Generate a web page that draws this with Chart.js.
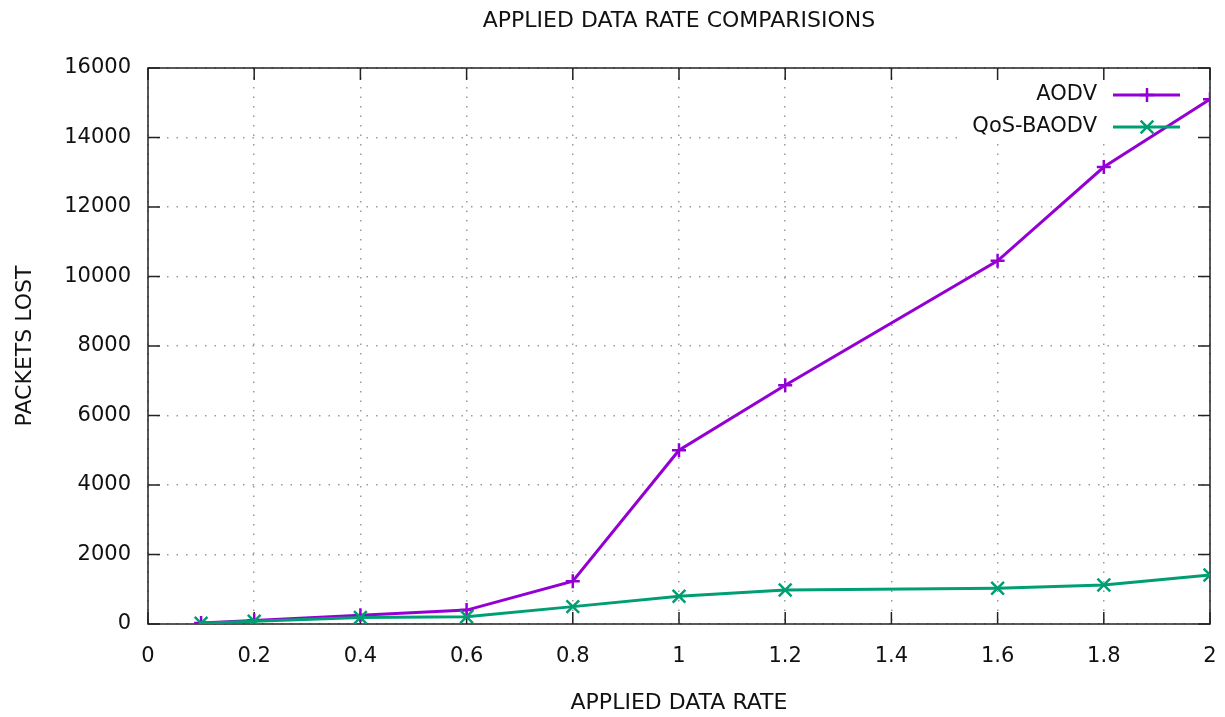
<!DOCTYPE html>
<html>
<head>
<meta charset="utf-8">
<script src="https://cdn.jsdelivr.net/npm/chart.js@4/dist/chart.umd.min.js"></script>
<style>
  body { margin: 0; background: #fff; }
</style>
</head>
<body>
<canvas id="chart" width="1225" height="717"></canvas>
<script>
const chartTitle = 'APPLIED DATA RATE COMPARISIONS';
const xTitle = 'APPLIED DATA RATE';
const yTitle = 'PACKETS LOST';

const rates = [0.1, 0.2, 0.4, 0.6, 0.8, 1.0, 1.2, 1.6, 1.8, 2.0];
const aodv = [30, 100, 250, 400, 1230, 5000, 6870, 10450, 13150, 15100];
const qosBaodv = [20, 80, 190, 210, 500, 800, 980, 1030, 1120, 1410];

const seriesNames = ['AODV', 'QoS-BAODV'];
const seriesColors = ['#9400d3', '#009e73'];
const seriesMarkers = ['cross', 'crossRot'];
const markerSizes = [7, 9];

const FONT = 'DejaVu Sans';

const points = vals => rates.map((x, i) => ({ x: x, y: vals[i] }));

// gnuplot style: framed plot, inward ticks on all sides, opaque key in the corner
const framePlugin = {
  id: 'frame',
  beforeDatasetsDraw(chart) {
    const { ctx, chartArea: a, scales } = chart;
    ctx.save();
    // key area hides the grid
    ctx.fillStyle = '#fff';
    ctx.fillRect(a.right - 252, a.top + 1, 251, 73);

    ctx.strokeStyle = '#222';
    ctx.lineWidth = 1.5;
    ctx.strokeRect(a.left, a.top, a.right - a.left, a.bottom - a.top);

    const len = 12;
    ctx.beginPath();
    scales.x.ticks.forEach(t => {
      const px = scales.x.getPixelForValue(t.value);
      ctx.moveTo(px, a.bottom); ctx.lineTo(px, a.bottom - len);
      ctx.moveTo(px, a.top); ctx.lineTo(px, a.top + len);
    });
    scales.y.ticks.forEach(t => {
      const py = scales.y.getPixelForValue(t.value);
      ctx.moveTo(a.left, py); ctx.lineTo(a.left + len, py);
      ctx.moveTo(a.right, py); ctx.lineTo(a.right - len, py);
    });
    ctx.stroke();

    // title
    ctx.fillStyle = '#111';
    ctx.font = '22px "' + FONT + '"';
    ctx.textAlign = 'center';
    ctx.textBaseline = 'middle';
    ctx.fillText(chartTitle, (a.left + a.right) / 2, 21);
    ctx.restore();
  },
  afterDatasetsDraw(chart) {
    const { ctx, chartArea: a } = chart;
    ctx.save();
    ctx.font = '21px "' + FONT + '"';
    ctx.textAlign = 'right';
    ctx.textBaseline = 'middle';
    seriesNames.forEach((name, i) => {
      const y = a.top + 27 + i * 32;
      ctx.fillStyle = '#111';
      ctx.fillText(name, a.right - 113, y);
      ctx.strokeStyle = seriesColors[i];
      ctx.lineWidth = 3;
      ctx.beginPath();
      ctx.moveTo(a.right - 97, y);
      ctx.lineTo(a.right - 30, y);
      ctx.stroke();
      ctx.lineWidth = 2.5;
      Chart.helpers.drawPoint(ctx, {
        pointStyle: seriesMarkers[i],
        radius: markerSizes[i],
        borderWidth: 2.5
      }, a.right - 63, y);
    });
    ctx.restore();
  }
};

new Chart(document.getElementById('chart'), {
  type: 'line',
  data: {
    datasets: [
      {
        label: seriesNames[0],
        data: points(aodv),
        borderColor: seriesColors[0],
        backgroundColor: seriesColors[0],
        borderWidth: 3,
        pointStyle: seriesMarkers[0],
        pointRadius: markerSizes[0],
        pointBorderWidth: 2.5,
        order: 2
      },
      {
        label: seriesNames[1],
        data: points(qosBaodv),
        borderColor: seriesColors[1],
        backgroundColor: seriesColors[1],
        borderWidth: 3,
        pointStyle: seriesMarkers[1],
        pointRadius: markerSizes[1],
        pointBorderWidth: 2.5,
        order: 1
      }
    ]
  },
  options: {
    responsive: false,
    animation: false,
    layout: { padding: { left: 0, right: 15, top: 68, bottom: 0 } },
    plugins: {
      legend: { display: false },
      tooltip: { enabled: false }
    },
    scales: {
      x: {
        type: 'linear',
        min: 0,
        max: 2,
        afterFit(scale) {
          scale.height = 93;
          scale.paddingLeft = 0;
          scale.paddingRight = 0;
        },
        ticks: {
          stepSize: 0.2,
          padding: 20,
          color: '#111',
          font: { family: FONT, size: 21 },
          maxRotation: 0,
          callback: v => String(+v.toFixed(1))
        },
        grid: { color: '#9a9a9a', lineWidth: 1.5, drawTicks: false },
        border: { display: false, dash: [1.5, 8] },
        title: {
          display: true,
          text: xTitle,
          color: '#111',
          font: { family: FONT, size: 22 },
          padding: { top: 0, bottom: 1 }
        }
      },
      y: {
        min: 0,
        max: 16000,
        afterFit(scale) { scale.width = 148; },
        ticks: {
          stepSize: 2000,
          padding: 17,
          color: '#111',
          font: { family: FONT, size: 21 },
          callback: v => String(v)
        },
        grid: { color: '#9a9a9a', lineWidth: 1.5, drawTicks: false },
        border: { display: false, dash: [1.5, 8] },
        title: {
          display: true,
          text: yTitle,
          color: '#111',
          font: { family: FONT, size: 22 },
          padding: { top: 12, bottom: 0 }
        }
      }
    }
  },
  plugins: [framePlugin]
});
</script>
</body>
</html>
